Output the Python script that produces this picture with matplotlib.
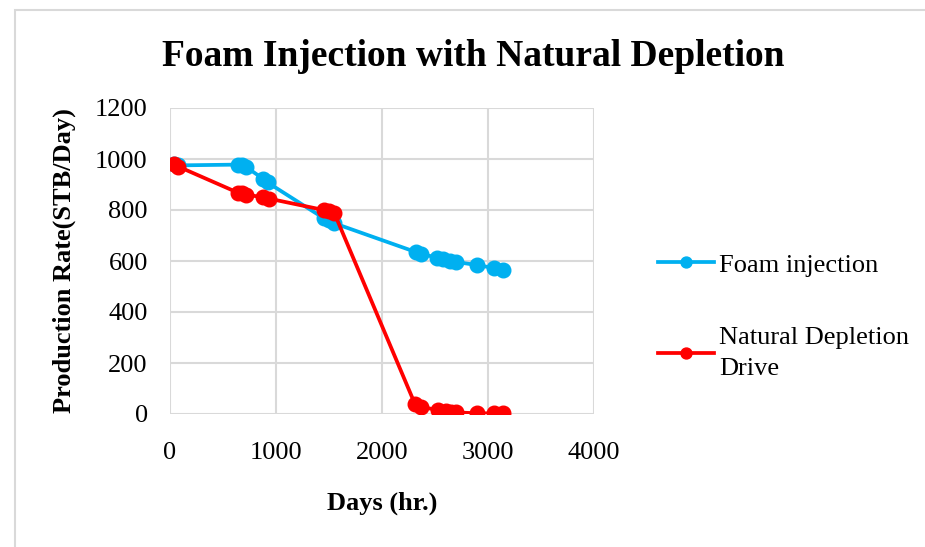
import matplotlib.pyplot as plt
from matplotlib.patches import Rectangle

# data
foam_days = [40, 80, 640, 680, 720, 880, 920, 1450, 1500, 1550,
             2320, 2370, 2520, 2580, 2640, 2700, 2900, 3060, 3140]
foam_rate = [980, 975, 978, 975, 968, 922, 908, 768, 760, 748,
             635, 628, 613, 607, 601, 596, 584, 572, 566]

dep_days = [40, 80, 640, 680, 720, 880, 930, 1450, 1500, 1550,
            2310, 2370, 2530, 2600, 2650, 2700, 2900, 3060, 3140]
dep_rate = [980, 970, 868, 865, 860, 850, 845, 800, 795, 788,
            40, 28, 15, 10, 8, 6, 3, 2, 2]

blue = '#00B0F0'
red = '#FF0000'

plt.rcParams['font.family'] = 'Liberation Serif'

fig = plt.figure(figsize=(9.25, 5.47), dpi=100)
ax = fig.add_axes([170 / 925, 1 - 414 / 547, 424 / 925, 306 / 547])

ax.plot(foam_days, foam_rate, color=blue, lw=2.7, marker='o', ms=10.5,
        label='Foam injection', zorder=3)
ax.plot(dep_days, dep_rate, color=red, lw=2.7, marker='o', ms=10.5,
        label='Natural Depletion\nDrive', zorder=3)

ax.set_xlim(0, 4000)
ax.set_ylim(0, 1200)
ax.set_xticks(range(0, 4001, 1000))
ax.set_yticks(range(0, 1201, 200))
ax.grid(True, color='#d9d9d9', lw=1.5)
ax.set_axisbelow(True)
for s in ax.spines.values():
    s.set_visible(False)
ax.tick_params(length=0, labelsize=19)
ax.tick_params(axis='y', pad=16)
ax.tick_params(axis='x', pad=20)

ax.set_xlabel('Days (hr.)', fontsize=19, fontweight='bold', labelpad=20)
ax.set_ylabel('Production Rate(STB/Day)', fontsize=19, fontweight='bold', labelpad=14)
fig.text(473 / 925, 1 - 56 / 547, 'Foam Injection with Natural Depletion',
         ha='center', va='center', fontsize=27, fontweight='bold')

leg = fig.legend(loc='upper left', bbox_to_anchor=(645 / 925, 1 - 240 / 547), frameon=False,
                 fontsize=19, handlelength=2.1, handletextpad=0.2, labelspacing=1.9,
                 markerscale=0.75, borderpad=0)
for t in leg.get_texts():
    t.set_linespacing(1.55)

fig.patches.append(Rectangle((15 / 925, -0.1), 1, 1 - 10 / 547 + 0.1,
                             transform=fig.transFigure, fill=False,
                             edgecolor='#d9d9d9', lw=1.5))

fig.savefig('out.png', dpi=100)
